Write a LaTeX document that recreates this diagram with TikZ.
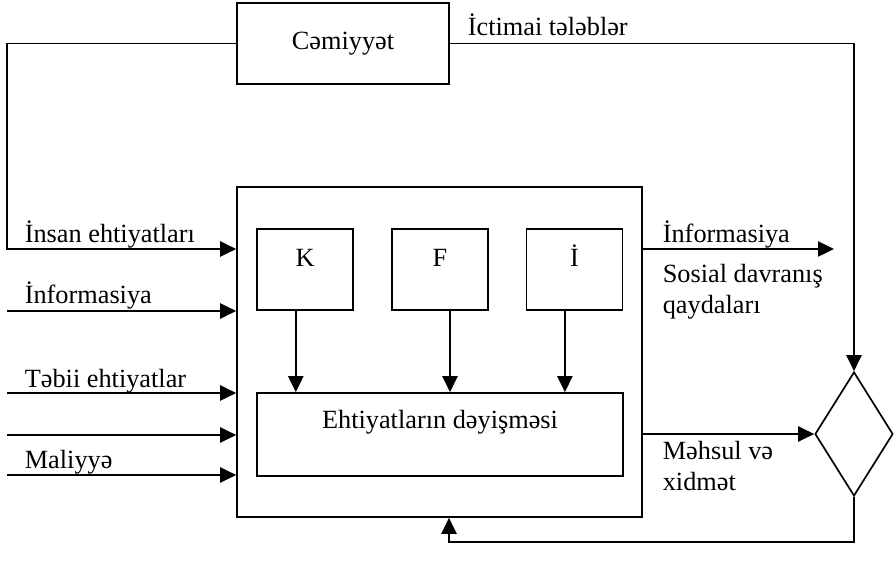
\documentclass[tikz,border=0pt]{standalone}
\usepackage{fontspec}
\setmainfont{Liberation Serif}
\usepackage{tikz}
\usetikzlibrary{shapes.geometric,arrows.meta,positioning,calc}
\tikzset{
    blk/.style={draw, inner sep=0pt, align=center},
    arr/.style={-{Triangle[length=4mm,width=3.8mm]}},
    lbl/.style={inner sep=0pt, anchor=base west, align=left}
}

\begin{document}
\begin{tikzpicture}[x=0.25mm, y=-0.25mm, line width=1.2pt,
    every node/.style={font=\fontsize{18.7pt}{22pt}\selectfont}]
    \useasboundingbox (0,0) rectangle (896,583);
    % Society
    \node[blk, minimum width=53mm, minimum height=20.25mm] (society) at (343,43.5) {Cəmiyyət};
    % Main block
    \node[blk, minimum width=101.25mm, minimum height=82.5mm] (main) at (439.5,352) {};
    % K, F, I
    \node[blk, minimum width=24mm, text height=9.4mm, text depth=10.85mm] (K) at (305,269.5) {K};
    \node[blk, minimum width=24mm, text height=9.4mm, text depth=10.85mm] (F) at (440,269.5) {F};
    \node[blk, minimum width=24mm, text height=9.4mm, text depth=10.85mm] (I) at (574.5,269.5) {İ};
    % Change of resources
    \node[blk, minimum width=91.5mm, text height=8.75mm, text depth=12mm] (change) at (440,434.5) {Ehtiyatların dəyişməsi};
    % Check
    \node[draw, diamond, inner sep=0pt, minimum width=19.5mm, minimum height=31mm] (check) at (854,434) {};
    % Free ends
    \coordinate (in1) at (7,249);
    \coordinate (in2) at (7,311);
    \coordinate (in3) at (7,393);
    \coordinate (in4) at (7,435);
    \coordinate (in5) at (7,475);
    \coordinate (out1) at (834,249);
    \coordinate (fb) at (449,542);
    % Inputs
    \draw[arr] (society.west) -| (in1) -- (main.west |- in1);
    \foreach \i in {2,...,5}
        \draw[arr] (in\i) -- (main.west |- in\i);
    % Outputs
    \draw[arr] (society.east) -| (check.north);
    \draw[arr] (main.east |- out1) -- (out1);
    \draw[arr] (main.east |- check.west) -- (check.west);
    \draw[arr] (check.south) |- (fb) -- (fb |- main.south);
    % Inner arrows
    \draw[arr] ([xshift=-2.3mm]K.south) -- ([xshift=-2.3mm]K.south |- change.north);
    \draw[arr] ([xshift=2.5mm]F.south) -- ([xshift=2.5mm]F.south |- change.north);
    \draw[arr] ([xshift=-2.4mm]I.south) -- ([xshift=-2.4mm]I.south |- change.north);
    % Labels
    \node[lbl] (tsoc) at (467,36) {İctimai tələblər};
    \node[lbl] (tin1) at (24,242) {İnsan ehtiyatları};
    \node[lbl] (tin2) at (24,303) {İnformasiya};
    \node[lbl] (tin3) at (24,387) {Təbii ehtiyatlar};
    \node[lbl] (tin5) at (24,468) {Maliyyə};
    \node[lbl] (tout1) at (662,242) {İnformasiya};
    \node[lbl] (tout2) at (662,313) {Sosial davranış\\qaydaları};
    \node[lbl] (tout3) at (662,490) {Məhsul və\\xidmət};
\end{tikzpicture}
\end{document}
